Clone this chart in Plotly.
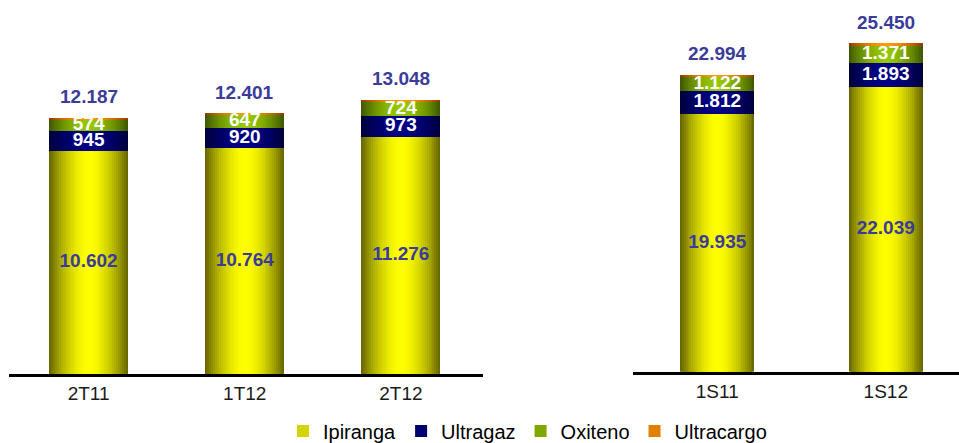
import plotly.graph_objects as go

# ---- data ----
cats_q = ["2T11", "1T12", "2T12"]
cats_s = ["1S11", "1S12"]
series = ["Ipiranga", "Ultragaz", "Oxiteno", "Ultracargo"]
ipiranga_q = [10602, 10764, 11276]
ultragaz_q = [945, 920, 973]
oxiteno_q = [574, 647, 724]
ultracargo_q = [66, 70, 75]
totals_q = [12187, 12401, 13048]
ipiranga_s = [19935, 22039]
ultragaz_s = [1812, 1893]
oxiteno_s = [1122, 1371]
ultracargo_s = [125, 147]
totals_s = [22994, 25450]

# ---- styles ----
edge_cols = {"Ipiranga": (105, 105, 0), "Ultragaz": (0, 0, 60), "Oxiteno": (65, 90, 0), "Ultracargo": (150, 60, 0)}
center_cols = {"Ipiranga": (255, 255, 0), "Ultragaz": (0, 0, 135), "Oxiteno": (150, 200, 0), "Ultracargo": (255, 155, 0)}
label_cols = {"Ipiranga": "#3b3b99", "Ultragaz": "white", "Oxiteno": "white"}
FONT = "Liberation Sans, Arial, sans-serif"
NL = 20


def mix(a, b, t):
    return "rgb(%d,%d,%d)" % tuple(round(a[i] + (b[i] - a[i]) * t) for i in range(3))


fig = go.Figure()


def add_panel(cats, vals, totals, xa, ya, width, legend):
    base = [0] * len(cats)
    for si, name in enumerate(series):
        v = vals[si]
        for k in range(NL):
            u = 1 - k / NL
            t = 1 - u ** 1.8
            col = mix(edge_cols[name], center_cols[name], t)
            fig.add_trace(go.Bar(
                x=cats, y=v, base=base, width=width * u, xaxis=xa, yaxis=ya,
                marker=dict(color=col, line=dict(width=0)), name=name, legendgroup=name,
                showlegend=(legend and k == NL // 2), hoverinfo="skip"))
        if name in label_cols:
            mids = [b + vv / 2 for b, vv in zip(base, v)]
            fig.add_trace(go.Scatter(
                x=cats, y=mids, mode="text", xaxis=xa, yaxis=ya,
                text=[f"{vv:,}".replace(",", ".") for vv in v], textposition="middle center",
                textfont=dict(family=FONT, size=19, color=label_cols[name], weight="bold"),
                showlegend=False, hoverinfo="skip"))
        base = [b + vv for b, vv in zip(base, v)]
    for c, tot in zip(cats, totals):
        fig.add_annotation(x=c, y=tot, xref=xa, yref=ya, text=f"{tot:,}".replace(",", "."),
                           showarrow=False, yshift=21, yanchor="middle",
                           font=dict(family=FONT, size=19, color="#3b3b99", weight="bold"))


add_panel(cats_q, [ipiranga_q, ultragaz_q, oxiteno_q, ultracargo_q], totals_q, "x", "y", 0.506, True)
add_panel(cats_s, [ipiranga_s, ultragaz_s, oxiteno_s, ultracargo_s], totals_s, "x2", "y2", 0.44, False)

axis_common = dict(showline=True, linecolor="black", linewidth=3, showgrid=False, zeroline=False,
                   ticks="", tickfont=dict(family=FONT, size=19, color="#1a1a1a"), type="category",
                   automargin=False)
fig.update_layout(
    width=959, height=443, margin=dict(l=0, r=0, t=0, b=69, autoexpand=False),
    paper_bgcolor="white", plot_bgcolor="white", barmode="overlay", bargap=0,
    xaxis=dict(domain=[9 / 959, 483 / 959], range=[-0.51, 2.526], anchor="y", **axis_common),
    xaxis2=dict(domain=[633 / 959, 1], range=[-0.5, 1.4345], anchor="y2", **axis_common),
    yaxis=dict(domain=[0, 1], range=[0, 17784], visible=False),
    yaxis2=dict(domain=[0.006, 1], range=[0, 28796], visible=False, anchor="x2"),
    legend=dict(orientation="h", x=0.55, xanchor="center", yref="container", y=12 / 443, yanchor="middle",
                font=dict(family=FONT, size=20, color="black"), traceorder="normal"),
    showlegend=True,
)

fig.write_html("out.html")
